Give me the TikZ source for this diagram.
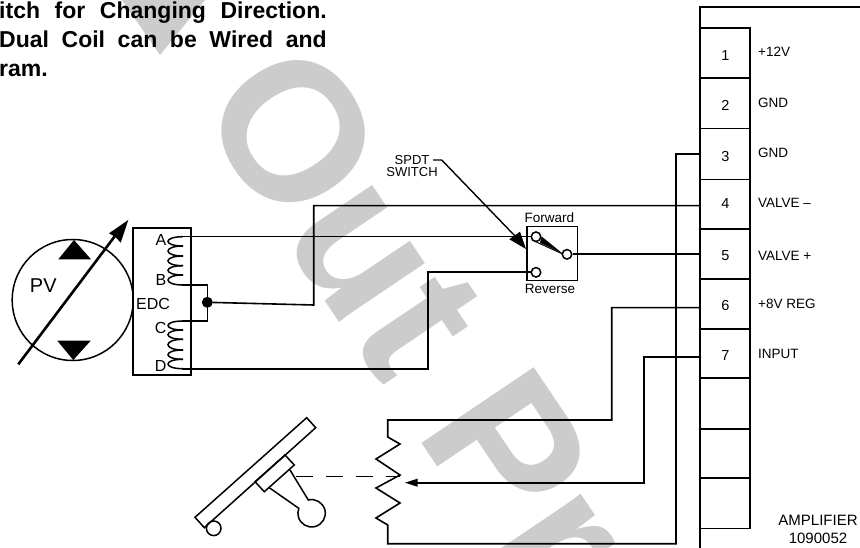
\documentclass[tikz,border=0pt]{standalone}
\usepackage{fontspec}
\setmainfont{Liberation Sans}
\begin{document}
\begin{tikzpicture}[x=1pt,y=-1pt,
  wire/.style={line width=1.6pt,line join=miter},
  thin wire/.style={line width=1.4pt},
  lbl/.style={inner sep=0pt,font=\fontsize{13.5}{14}\selectfont},
  pinno/.style={inner sep=0pt,font=\fontsize{14.5}{15}\selectfont},
  edclbl/.style={inner sep=0pt,font=\fontsize{16}{17}\selectfont},
  contact/.style={circle,draw,line width=1.5pt,fill=white,minimum size=9.5pt,inner sep=0pt},
  shape line/.style={line width=1.5pt},
  para/.style={inner sep=0pt,anchor=base west,font=\fontsize{23}{24}\bfseries\selectfont}]
\useasboundingbox (0,0) rectangle (860,548);
\clip (0,0) rectangle (860,548);
\fill[white] (0,0) rectangle (860,548);

% watermark
\node[inner sep=0pt,anchor=base west,rotate=-56,text=black!20,font=\fontsize{197}{197}\bfseries\selectfont] (wm) at (194,106) {Out Pr};
\fill[black!20] (122,0) -- (160,55) -- (205,0) -- cycle;

% paragraph
\node[para] (p1) at (-1,19) {\hbox to 327.5pt{itch\hfill for\hfill Changing\hfill Direction.}};
\node[para] (p2) at (-1,47.5) {\hbox to 327.5pt{Dual\hfill Coil\hfill can\hfill be\hfill Wired\hfill and}};
\node[para] (p3) at (-1,76.5) {ram.};

% amplifier
\draw[wire] (860,7) -- (700,7) -- (700,548);
\foreach \i/\ya/\yb in {1/28/78,2/78/128.5,3/128.5/179.5,4/179.5/229,5/229/279,6/279/329,7/329/378,8/378/429,9/429/478,10/478/528.5}{
  \draw[wire] (700,\ya) rectangle (750,\yb);
}
\foreach \t/\y in {1/55.5,2/105,3/157,4/204,5/256,6/306,7/355.5}
  \node[pinno] (n\t) at (725.5,\y) {\t};
\foreach \n/\t/\y in {a/+12V/52,b/GND/103,c/GND/153,d/VALVE –/203,e/VALVE +/256,f/+8V REG/304,g/INPUT/354}
  \node[lbl,anchor=west] (lab\n) at (758,\y) {\t};
\node[inner sep=0pt,font=\fontsize{15}{16}\selectfont] (amp) at (818,520) {AMPLIFIER};
\node[inner sep=0pt,font=\fontsize{15}{16}\selectfont] (ampn) at (818,538) {1090052};

% pump
\node[circle,draw,shape line,minimum size=121pt,inner sep=0pt] (pv) at (72.7,300) {};
\node[inner sep=0pt,font=\fontsize{20}{21}\selectfont] (pvt) at (43.3,286) {PV};
\fill (74,240) -- (58.3,259.3) -- (91,259.3) -- cycle;
\fill (57.3,340.7) -- (90.7,340.7) -- (73.3,360) -- cycle;
\coordinate (aS) at (18.3,364.3);
\coordinate (aE) at (115,236);
\draw[line width=2.6pt] (aS) -- (aE);
\fill (128.3,220) -- (109,233.3) -- (115.5,237) -- (120.7,242.7) -- cycle;

% EDC
\draw[wire] (132.7,228.3) rectangle (190.7,375);
\node[edclbl] (la) at (161,240) {A};
\node[edclbl] (lb) at (161,280) {B};
\node[edclbl] (ledc) at (153,304.3) {EDC};
\node[edclbl] (lc) at (160.7,327.7) {C};
\node[edclbl] (ld) at (160.7,366) {D};
\foreach \a/\b in {236.7/246,246/256,256/265.7,265.7/275,275/285,321/330,330/339.3,339.3/350,350/359.3,359.3/368.7}
  \draw[shape line] (183,\a) .. controls (163,\a) and (163,\b) .. (183,\b);

% switch
\draw[wire] (526.7,226.7) rectangle (577.3,280.7);
\node[lbl] (fwd) at (549.3,217.3) {Forward};
\node[lbl] (rev) at (550,289.3) {Reverse};
\coordinate (coilA) at (182,236.7);
\coordinate (coilB) at (182,285);
\coordinate (coilC) at (182,321);
\coordinate (coilD) at (182,368.7);
\node[circle,fill,minimum size=11pt,inner sep=0pt] (dot) at (207.3,302.3) {};
\draw[wire] (coilB) -- (207.3,285) -- (207.3,321) -- (coilC);
\node[contact] (cF) at (536,236.7) {};
\node[contact] (cR) at (536,272.3) {};
\node[contact] (cC) at (567,254.3) {};
\fill (541.7,236.5) -- (540,242.7) -- (562.7,253.6) -- cycle;
\draw[line width=1pt] (532,240) -- (562.7,254);
\draw[wire] (coilA) -- (cF);
\draw[wire] (coilD) -- (427.7,368.7) -- (427.7,272.3) -- (cR);
\draw[wire] (cC) -- (700,254.3);
\draw[wire] (dot) -- (313.7,305) -- (313.7,205.7) -- (700,205.7);

% leader
\node[inner sep=0pt,font=\fontsize{13}{12}\selectfont,align=center] (sw) at (412,166) {SPDT\\SWITCH};
\coordinate (ld1) at (433,160);
\coordinate (ld2) at (441.7,160);
\coordinate (ldn) at (515,236);
\draw[thin wire] (ld1) -- (ld2) -- (ldn);
\fill (526,249) -- (509.3,239.3) -- (520,231.7) -- cycle;

% other wires
\draw[wire] (700,154) -- (676,154) -- (676,543.7) -- (387.7,543.7) -- (387.7,525) -- (376,518) -- (400,503) -- (376,488) -- (400,475) -- (376,459) -- (400,444) -- (387.7,437) -- (387.7,420) -- (611.7,420) -- (611.7,307.7) -- (700,307.7);
\draw[wire] (700,356.7) -- (644,356.7) -- (644,482.7) -- (416,482.7);
\fill (405,482.7) -- (417.5,478.7) -- (417.5,486.7) -- cycle;
\draw[thin wire,dash pattern=on 16.7pt off 13.3pt] (296,476.3) -- (400,476.3);

% pedal
\draw[shape line] (195,517.3) -- (306.7,417.7) -- (315.7,427.7) -- (204.3,527.7) -- cycle;
\node[circle,draw,shape line,minimum size=14.6pt,inner sep=0pt] (roller) at (213.7,528.3) {};
\draw[shape line] (255,481.7) -- (285,455) -- (294.3,465) -- (264.3,491.7) -- cycle;
\draw[shape line] (290,470) -- (308.3,500) arc[start angle=104,end angle=-201,radius=13.7pt] -- (269.3,487.7);
\end{tikzpicture}
\end{document}
